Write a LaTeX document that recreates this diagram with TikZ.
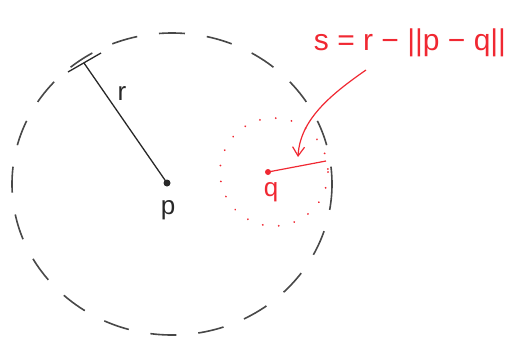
\documentclass[tikz,border=0pt]{standalone}
\usepackage{fontspec}
\setmainfont{Liberation Sans}
\usetikzlibrary{arrows.meta}
\definecolor{ink}{RGB}{40,40,40}
\definecolor{pen}{RGB}{240,40,50}
\tikzset{
  bigcirc/.style={draw=ink!85, line width=1.6pt, dash pattern=on 26pt off 22pt},
  smallcirc/.style={draw=pen, line width=2pt, line cap=round, dash pattern=on 0.01pt off 16pt},
  blackline/.style={draw=ink, line width=1.3pt},
  redline/.style={draw=pen, line width=1.2pt},
  blab/.style={text=ink, font=\fontsize{26}{26}\selectfont, inner sep=0pt},
  rlab/.style={text=pen, font=\fontsize{30}{30}\selectfont, inner sep=0pt}
}
\begin{document}
\begin{tikzpicture}[x=1pt,y=-1pt]
\useasboundingbox (0,0) rectangle (508,346);
% big dashed circle
\coordinate (P) at (167,183);
\draw[bigcirc] (172,184) ellipse [x radius=160, y radius=151];
% radius line
\coordinate (T) at (84,63);
\draw[blackline] (P) -- (T);
\coordinate (T1) at (68,72);
\coordinate (T2) at (101,53);
\draw[blackline] (T1) -- (T2);
\fill[ink] (P) circle (3.5pt);
\node[blab] (r) at (122,93) {r};
\node[blab] (p) at (168,210) {p};
% small dotted circle
\coordinate (Q) at (268,172);
\draw[smallcirc] (274,172) circle (54);
\coordinate (S) at (326,161);
\draw[redline] (Q) -- (S);
\fill[pen] (Q) circle (3pt);
\node[rlab, font=\fontsize{26}{26}\selectfont] (q) at (271,192) {q};
% formula
\node[rlab] (f) at (410,43) {s = r − ||p − q||};
\coordinate (A0) at (366,70);
\coordinate (A1) at (298,157);
\draw[redline, -{Straight Barb[length=9pt,width=12pt]}] (A0) .. controls (330,95) and (300,120) .. (A1);
\end{tikzpicture}
\end{document}
